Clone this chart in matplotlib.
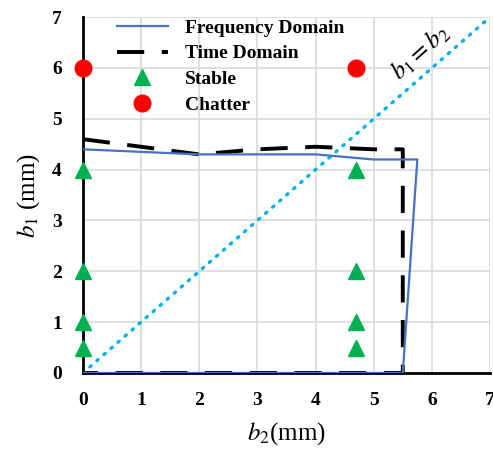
import matplotlib
matplotlib.use("Agg")
import matplotlib.pyplot as plt

# Stability boundaries (b2, b1 in mm)
freq_b2 = [0, 1, 2, 3, 4, 5, 5.75, 5.5, 0]
freq_b1 = [4.4, 4.35, 4.3, 4.3, 4.3, 4.2, 4.2, 0, 0]
time_b2 = [0, 1, 2, 3, 4, 5, 5.5, 5.5, 0]
time_b1 = [4.6, 4.45, 4.3, 4.4, 4.45, 4.4, 4.4, 0, 0]

# Cutting tests
stable_b2 = [0, 0, 0, 0, 4.7, 4.7, 4.7, 4.7]
stable_b1 = [0.5, 1, 2, 4, 0.5, 1, 2, 4]
chatter_b2 = [0, 4.7]
chatter_b1 = [6, 6]

diag = [0, 7]
ticks = [0, 1, 2, 3, 4, 5, 6, 7]

plt.rcParams["font.family"] = ["Liberation Serif", "DejaVu Serif"]
plt.rcParams["mathtext.fontset"] = "stix"

fig = plt.figure(figsize=(4.93, 4.51), dpi=100)
ax = fig.add_axes([0.168, 0.173, 0.826, 0.789])

ax.plot(freq_b2, freq_b1, color="#4472C4", lw=1.6, label="Frequency Domain", zorder=3)
ax.plot(time_b2, time_b1, color="black", lw=2.8, dashes=(7, 4.5),
        label="Time Domain", zorder=2)
ax.plot(diag, diag, color="#00B0F0", lw=2.4, linestyle=(0, (0.5, 2.3)),
        dash_capstyle="round", zorder=2)
ax.plot(stable_b2, stable_b1, ls="none", marker="^", ms=12, color="#00B050",
        label="Stable", clip_on=False, zorder=4)
ax.plot(chatter_b2, chatter_b1, ls="none", marker="o", ms=12, color="#FF0000",
        label="Chatter", clip_on=False, zorder=4)

ax.text(5.8, 6.3, r"$b_1 = b_2$", fontsize=18, rotation=42,
        ha="center", va="center")

ax.set_xlim(0, 7)
ax.set_ylim(0, 7)
ax.set_xticks(ticks)
ax.set_yticks(ticks)
ax.grid(True, color="#d9d9d9", lw=1.2)
ax.set_axisbelow(True)
for side in ("top", "right"):
    ax.spines[side].set_visible(False)
for side in ("left", "bottom"):
    ax.spines[side].set_linewidth(2)
ax.tick_params(length=0, labelsize=14)
ax.tick_params(axis="x", pad=14)
ax.tick_params(axis="y", pad=15)
for lab in ax.get_xticklabels() + ax.get_yticklabels():
    lab.set_fontweight("bold")

ax.set_xlabel(r"$b_2$(mm)", fontsize=18, labelpad=8)
ax.set_ylabel(r"$b_1$ (mm)", fontsize=18, labelpad=7)

ax.legend(loc="upper left", bbox_to_anchor=(0.084, 0.995), frameon=False,
          borderaxespad=0, borderpad=0,
          handlelength=2.6, handletextpad=0.9, labelspacing=0.42,
          prop={"weight": "bold", "size": 14})

fig.savefig("out.png", dpi=100)
